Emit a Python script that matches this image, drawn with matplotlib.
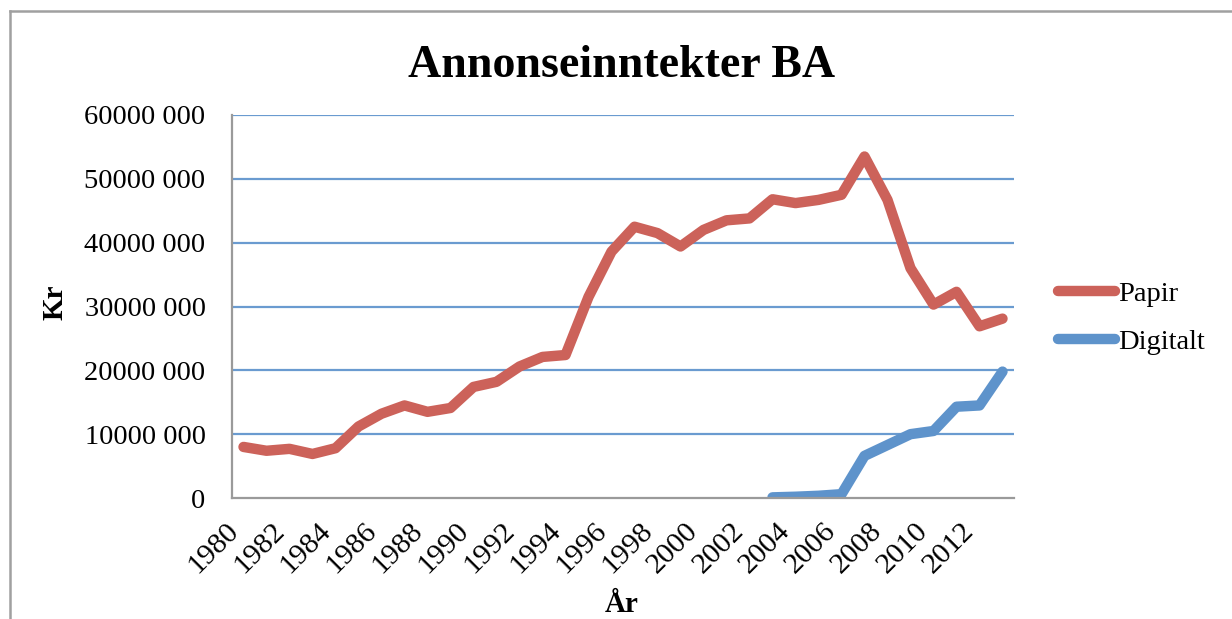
import matplotlib.pyplot as plt
import numpy as np
from matplotlib.lines import Line2D

# data
years = list(range(1980, 2014))
papir = [8.0, 7.4, 7.7, 6.9, 7.8, 11.2, 13.2, 14.5, 13.5, 14.1,
         17.4, 18.2, 20.6, 22.1, 22.4, 31.5, 38.6, 42.5, 41.5, 39.4,
         42.0, 43.5, 43.8, 46.8, 46.2, 46.7, 47.5, 53.5, 46.7, 36.0,
         30.3, 32.3, 26.9, 28.1]
digitalt_years = list(range(2003, 2014))
digitalt = [0.1, 0.2, 0.35, 0.6, 6.6, 8.3, 10.0, 10.5, 14.3, 14.5, 19.8]
y_ticks = [0, 10e6, 20e6, 30e6, 40e6, 50e6, 60e6]
y_labels = ["0", "10000 000", "20000 000", "30000 000", "40000 000", "50000 000", "60000 000"]
x_labels = [str(y) for y in years[::2]]

plt.rcParams['font.family'] = ['Liberation Serif', 'DejaVu Serif']

RED = '#CC625A'
BLUE = '#5E93CB'

fig = plt.figure(figsize=(12.32, 6.19), dpi=100)
ax = fig.add_axes([232/1232, 1 - 498/619, (1014 - 232)/1232, (498 - 115)/619])

idx = np.arange(len(years))
didx = np.array([years.index(y) for y in digitalt_years])
ax.plot(idx, np.array(papir) * 1e6, color=RED, lw=7.5, solid_capstyle='round', solid_joinstyle='round', label='Papir')
ax.plot(didx, np.array(digitalt) * 1e6, color=BLUE, lw=7.5, solid_capstyle='round', solid_joinstyle='round', label='Digitalt')

ax.set_xlim(-0.5, len(years) - 0.5)
ax.set_ylim(0, 60e6)
ax.set_yticks(y_ticks)
ax.set_yticklabels(y_labels, fontsize=20.5)
ax.set_xticks(idx[::2])
ax.set_xticklabels(x_labels, rotation=45, ha='right', va='top', fontsize=21.5)
ax.tick_params(axis='both', length=0)
ax.tick_params(axis='y', pad=19)
ax.tick_params(axis='x', pad=14)

for y in y_ticks[1:]:
    ax.axhline(y, color='#6A9BD0', lw=1.6, zorder=0)
for s in ['top', 'right']:
    ax.spines[s].set_visible(False)
for s in ['left', 'bottom']:
    ax.spines[s].set_color('#9A9A9A')
    ax.spines[s].set_linewidth(1.6)

fig.text(622/1232, 1 - 66/619, 'Annonseinntekter BA', ha='center', va='center', fontsize=33, fontweight='bold')
fig.text(55/1232, 1 - 302/619, 'Kr', rotation=90, ha='center', va='center', fontsize=21, fontweight='bold')
fig.text(622/1232, 1 - 604/619, 'År', ha='center', va='center', fontsize=21, fontweight='bold')

handles = [Line2D([], [], color=RED, lw=7.5, solid_capstyle='round'),
           Line2D([], [], color=BLUE, lw=7.5, solid_capstyle='round')]
fig.legend(handles, ['Papir', 'Digitalt'], loc='center left', bbox_to_anchor=(1044/1232, 1 - 318/619),
           frameon=False, fontsize=20.5, handlelength=2.0, handletextpad=0.12, labelspacing=0.75, borderpad=0)

# chart border
fig.add_artist(Line2D([10/1232, 10/1232], [0, 1 - 11/619], color='#A0A0A0', lw=1.8, transform=fig.transFigure))
fig.add_artist(Line2D([10/1232, 1], [1 - 11/619, 1 - 11/619], color='#A0A0A0', lw=1.8, transform=fig.transFigure))

fig.savefig('out.png', dpi=100)
